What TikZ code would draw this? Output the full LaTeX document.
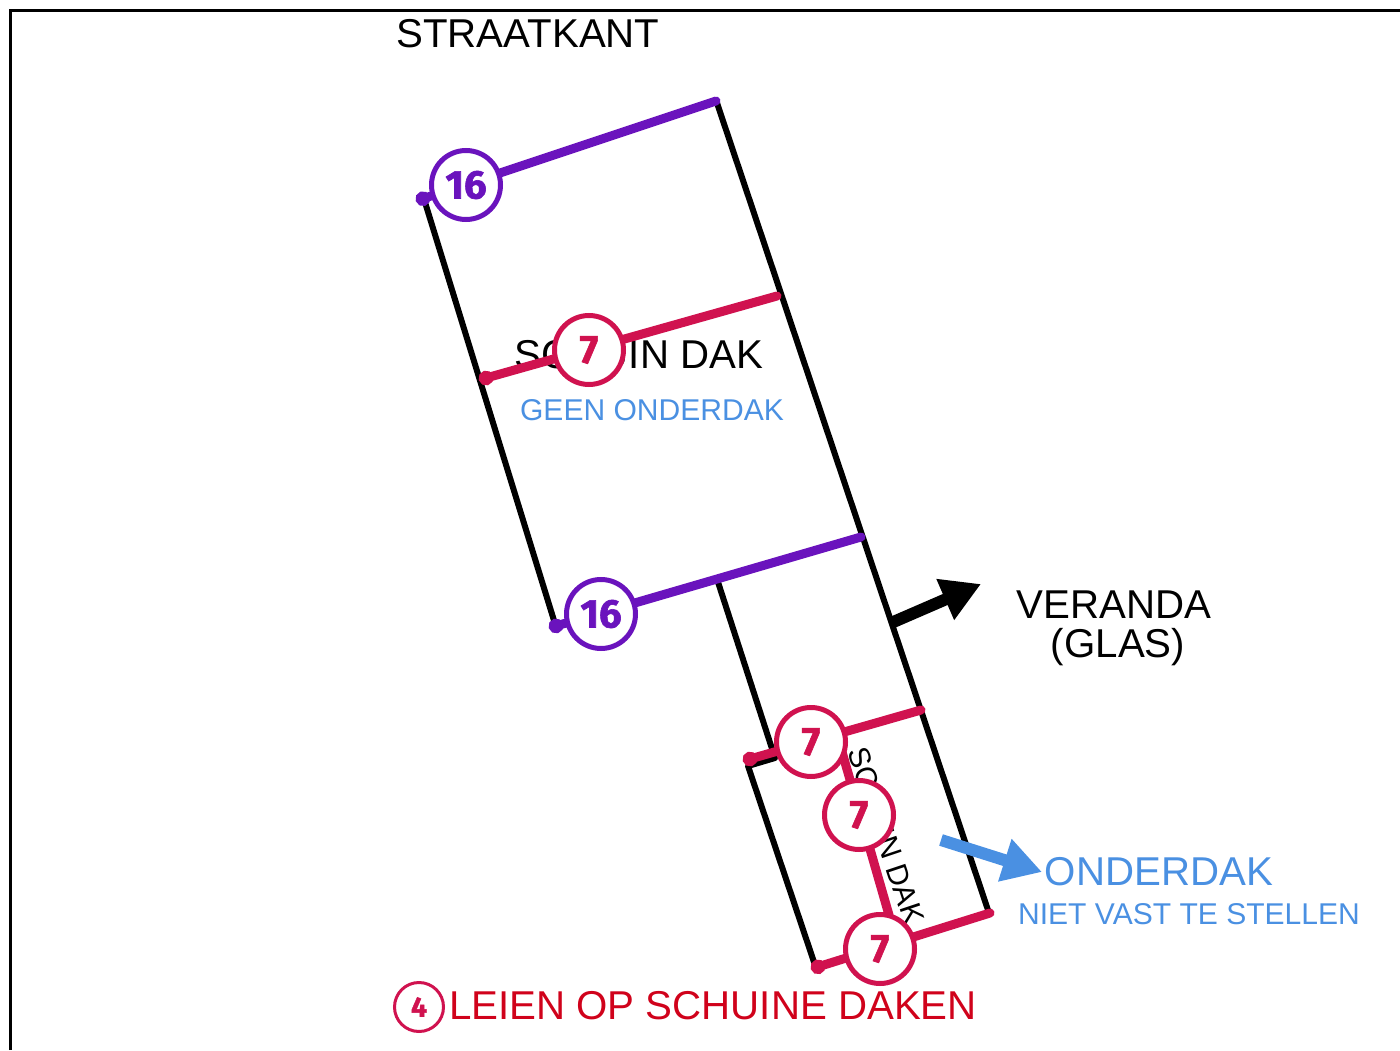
\documentclass[tikz,border=0pt]{standalone}
\usepackage{fontspec}
\setmainfont{Liberation Sans}
\newfontfamily\badgefont[BoldFeatures={FakeBold=1.5}]{Fira Sans}
\usetikzlibrary{arrows.meta}
\definecolor{paars}{HTML}{6A13BD}
\definecolor{rood}{HTML}{D0124F}
\definecolor{titelrood}{HTML}{D0021B}
\definecolor{blauw}{HTML}{4A90E2}
\tikzset{
  wall/.style={line width=0.06cm,line join=round},
  batten/.style={line width=0.09cm,line cap=round,-{Circle[length=0.145cm]}},
  badge/.style={circle,draw,fill=white,line width=0.05cm,minimum size=0.69cm,inner sep=0pt,font=\badgefont\bfseries\fontsize{11.4}{12}\selectfont},
  bigtext/.style={anchor=base,inner sep=0pt,font=\fontsize{11.45}{12}\selectfont},
  smalltext/.style={anchor=base,inner sep=0pt,text=blauw,font=\fontsize{8.55}{10}\selectfont},
  pointer/.style={line width=0.12cm,-{Triangle[length=0.39cm,width=0.42cm]}}
}
\begin{document}
\begin{tikzpicture}
	\useasboundingbox (0,0) rectangle (14,10.5);
	\draw[line width=0.03cm] (0.10,0) -- (0.10,10.39) -- (14,10.39);

	\coordinate (roofTR) at (7.16,9.50);
	\coordinate (roofTL) at (4.24,8.51);
	\coordinate (roofBL) at (5.56,4.23);
	\coordinate (roofBR) at (8.61,5.14);
	\coordinate (lowT) at (7.17,4.71);
	\coordinate (lowN) at (7.75,2.92);
	\coordinate (lowL) at (7.48,2.84);
	\coordinate (lowB) at (8.16,0.82);
	\coordinate (lowR) at (9.89,1.37);

	\draw[wall] (roofBR) -- (roofBL) -- (roofTL) -- (roofTR) -- (lowR) -- (lowB) -- (lowL) -- (lowN) -- (lowT);

	\node[bigtext] (straat) at (5.28,10.02) {STRAATKANT};
	\node[bigtext] (dak) at (6.39,6.82) {SCHUIN DAK};
	\node[smalltext] (geen) at (6.52,6.30) {GEEN ONDERDAK};
	\node[bigtext] (veranda) at (11.14,4.32) {VERANDA};
	\node[bigtext] (glas) at (11.18,3.93) {(GLAS)};
	\node[inner sep=0pt,rotate=-71.5,font=\fontsize{8.5}{10}\selectfont] (dak2) at (8.86,2.14) {SCHUIN DAK};
	\node[bigtext,text=blauw] (onder) at (11.59,1.65) {ONDERDAK};
	\node[smalltext] (niet) at (11.89,1.26) {NIET VAST TE STELLEN};
	\node[bigtext,text=titelrood] (leien) at (7.13,0.31) {LEIEN OP SCHUINE DAKEN};

	\coordinate (p1a) at (7.16,9.49);
	\coordinate (p1b) at (4.16,8.49);
	\coordinate (p2a) at (8.61,5.13);
	\coordinate (p2b) at (5.49,4.22);
	\draw[batten,paars] (p1a) -- (p1b);
	\draw[batten,paars] (p2a) -- (p2b);

	\coordinate (r1a) at (7.77,7.54);
	\coordinate (r1b) at (4.79,6.70);
	\coordinate (r2a) at (9.21,3.40);
	\coordinate (r2b) at (7.43,2.89);
	\coordinate (r3a) at (8.40,3.05);
	\coordinate (r3b) at (8.89,1.35);
	\coordinate (r4a) at (9.90,1.37);
	\coordinate (r4b) at (8.11,0.81);
	\draw[batten,rood] (r1a) -- (r1b);
	\draw[batten,rood] (r2a) -- (r2b);
	\draw[batten,rood,-] (r3a) -- (r3b);
	\draw[batten,rood] (r4a) -- (r4b);

	\node[badge,draw=paars,text=paars] (b16a) at (4.66,8.65) {16};
	\node[badge,draw=paars,text=paars] (b16b) at (6.01,4.36) {16};
	\node[badge,draw=rood,text=rood] (b7a) at (5.89,7.00) {7};
	\node[badge,draw=rood,text=rood] (b7b) at (8.11,3.08) {7};
	\node[badge,draw=rood,text=rood] (b7c) at (8.59,2.35) {7};
	\node[badge,draw=rood,text=rood] (b7d) at (8.80,1.01) {7};
	\node[badge,draw=rood,text=rood,line width=0.03cm,minimum size=0.49cm,font=\badgefont\bfseries\fontsize{8}{8}\selectfont] (b4) at (4.19,0.43) {4};

	\coordinate (v1) at (8.91,4.27);
	\coordinate (v2) at (9.81,4.66);
	\draw[pointer] (v1) -- (v2);
	\coordinate (o1) at (9.41,2.10);
	\coordinate (o2) at (10.42,1.78);
	\draw[pointer,blauw] (o1) -- (o2);
\end{tikzpicture}
\end{document}
